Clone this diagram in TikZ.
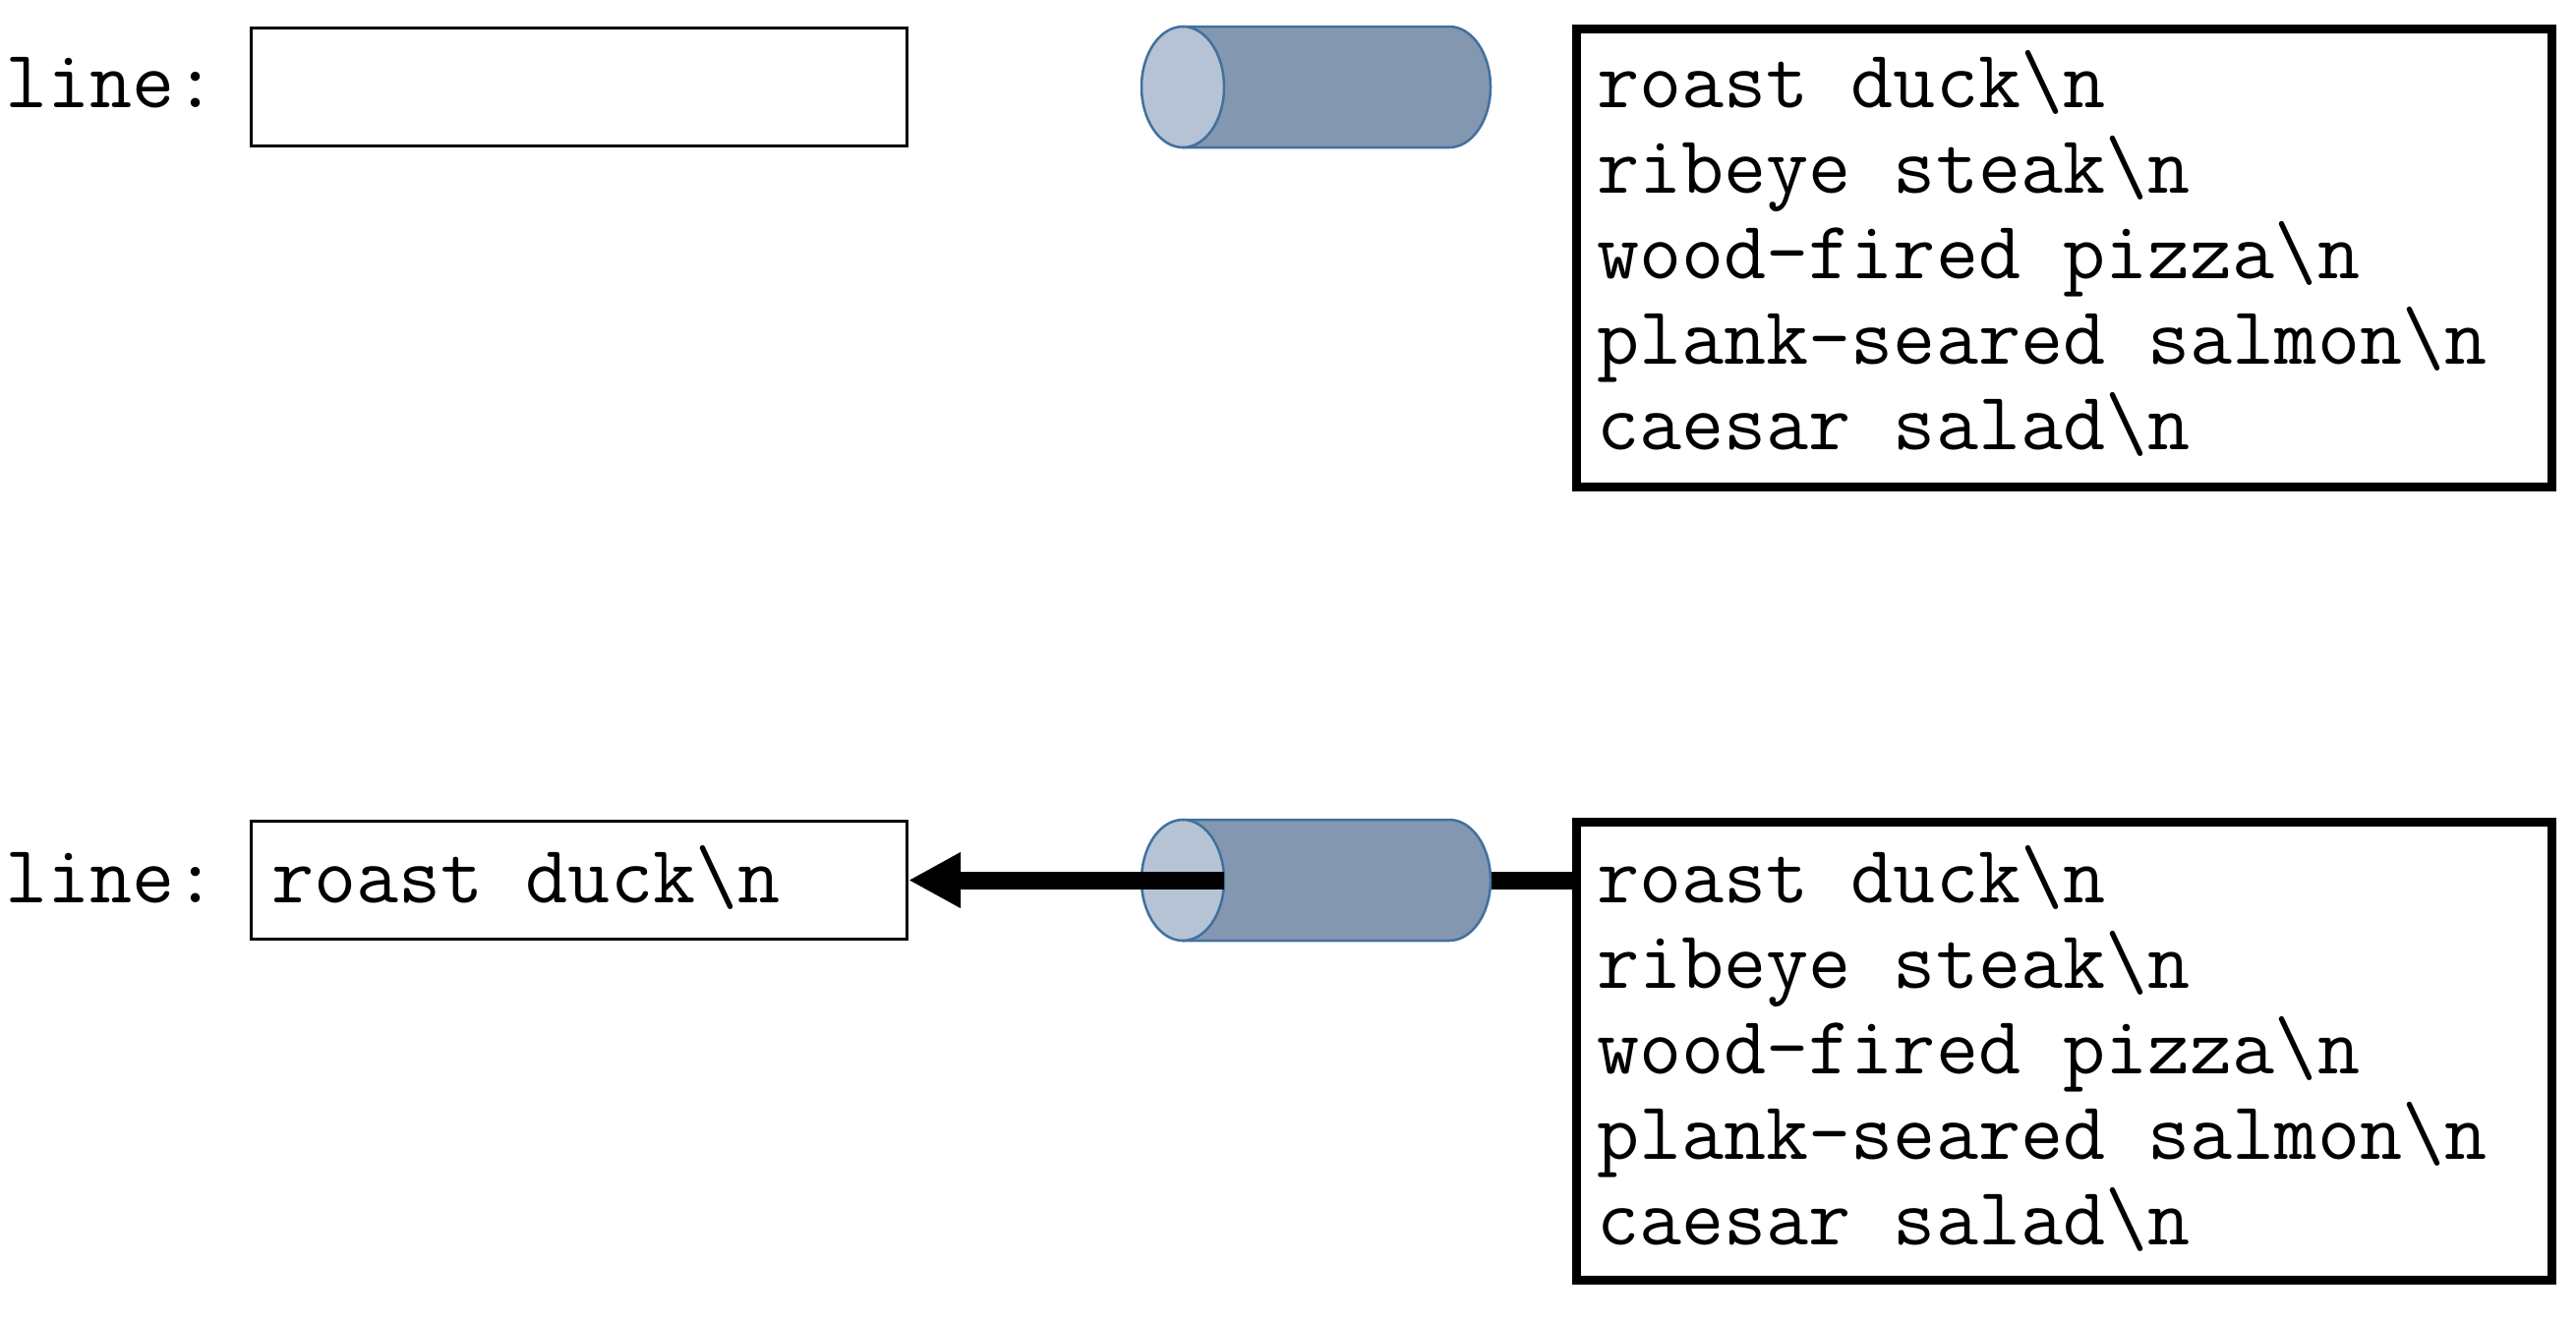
\documentclass[tikz,border=0pt]{standalone}
\usepackage{fontspec}
\usetikzlibrary{arrows.meta}
\definecolor{cylbody}{HTML}{8397B0}
\definecolor{cylcap}{HTML}{B5C3D4}
\definecolor{cylline}{HTML}{41709F}
\tikzset{
  txt/.style={anchor=base west, inner sep=0pt, font=\ttfamily\fontsize{83.7}{87}\selectfont},
  slot/.style={draw=black, line width=3pt, minimum width=667pt, minimum height=120pt, inner sep=0pt},
  listbox/.style={draw=black, line width=9pt, minimum width=992pt, minimum height=466pt, inner sep=0pt},
  cylframe/.style={minimum width=355pt, minimum height=123pt, inner sep=0pt},
  cylb/.style={fill=cylbody, draw=cylline, line width=2.5pt},
  cylc/.style={fill=cylcap, draw=cylline, line width=2.5pt},
  flow/.style={line width=18pt},
  flowarrow/.style={line width=18pt, -{Triangle[length=53pt,width=53pt]}}
}
\begin{document}
\begin{tikzpicture}[x=1pt,y=-1pt]
\useasboundingbox (0,0) rectangle (2620,1342);
% ---------- top row ----------
\node[txt] (lblA) at (5,109) {line:};
\node[slot] (slotA) at (589,88.5) {};
\node[cylframe] (cylA) at (1338.5,88.5) {};
\draw[cylb] (1203,27) -- (1474,27) arc[start angle=270,end angle=450,x radius=42,y radius=61.5] -- (1203,150) -- cycle;
\draw[cylc] (1203,88.5) ellipse[x radius=42,y radius=61.5];
\node[listbox] (listA) at (2099.5,262.5) {};
\node[txt] (a1) at (1624,109) {roast duck\textbackslash n};
\node[txt] (a2) at (1624,196) {ribeye steak\textbackslash n};
\node[txt] (a3) at (1624,283) {wood-fired pizza\textbackslash n};
\node[txt] (a4) at (1624,370) {plank-seared salmon\textbackslash n};
\node[txt] (a5) at (1624,457) {caesar salad\textbackslash n};
% ---------- bottom row ----------
\node[txt] (lblB) at (5,918) {line:};
\node[slot] (slotB) at (589,895.5) {};
\node[txt] (slotBtxt) at (276,918) {roast duck\textbackslash n};
\node[cylframe] (cylB) at (1338.5,895.5) {};
\node[listbox] (listB) at (2099.5,1069.5) {};
\draw[flow] (listB.west |- cylB.east) -- (cylB.east);
\draw[cylb] (1203,834) -- (1474,834) arc[start angle=270,end angle=450,x radius=42,y radius=61.5] -- (1203,957) -- cycle;
\draw[cylc] (1203,895.5) ellipse[x radius=42,y radius=61.5];
\coordinate (capB) at (1245,895.5);
\draw[flowarrow] (capB) -- (slotB.east);
\node[txt] (b1) at (1624,918) {roast duck\textbackslash n};
\node[txt] (b2) at (1624,1005) {ribeye steak\textbackslash n};
\node[txt] (b3) at (1624,1092) {wood-fired pizza\textbackslash n};
\node[txt] (b4) at (1624,1179) {plank-seared salmon\textbackslash n};
\node[txt] (b5) at (1624,1266) {caesar salad\textbackslash n};
\end{tikzpicture}
\end{document}
